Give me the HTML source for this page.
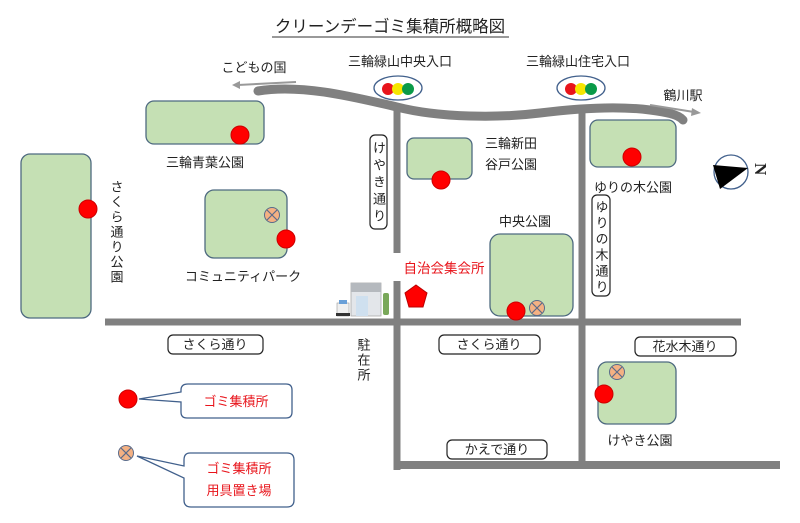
<!DOCTYPE html>
<html><head><meta charset="utf-8"><style>
html,body{margin:0;padding:0;background:#fff;}
svg{display:block;}
text{font-family:"Liberation Sans","Noto Sans CJK JP",sans-serif;fill:#222;font-size:13px;}
.r{fill:#e8141b;}
.v{writing-mode:tb;}
</style></head><body>
<svg width="800" height="523" viewBox="0 0 800 523" xmlns="http://www.w3.org/2000/svg">
<defs>
<g id="x"><circle r="7.5" fill="#f4b183" stroke="#5a6b8a" stroke-width="1"/><path d="M-5,-5L5,5M5,-5L-5,5" stroke="#5a6b8a" stroke-width="1.2"/></g>
<g id="d"><circle r="9" fill="#f00" stroke="#c00" stroke-width="1"/></g>
</defs>
<!-- title -->
<text x="390" y="32" text-anchor="middle" style="font-size:16.5px">クリーンデーゴミ集積所概略図</text>
<line x1="272" y1="37" x2="509" y2="37" stroke="#333" stroke-width="1"/>
<!-- roads -->
<g stroke="#808080" fill="none">
<path d="M258,91 C300,84 350,96 397,107 C440,118 500,118 540,113 C580,108 620,106 650,110 C665,112 678,114 683,120" stroke-width="9" stroke-linecap="round"/>
<line x1="397" y1="107" x2="397" y2="253" stroke-width="7"/>
<line x1="397" y1="281" x2="397" y2="470" stroke-width="7"/>
<line x1="582" y1="110" x2="582" y2="465" stroke-width="7"/>
<line x1="105" y1="322" x2="741" y2="322" stroke-width="7"/>
<line x1="397" y1="465" x2="780" y2="465" stroke-width="8"/>
</g>
<!-- arrows -->
<g stroke="#999" stroke-width="2" fill="#999">
<line x1="296" y1="82" x2="238" y2="85"/><path d="M232,85 L240,81 L240,89Z" stroke="none"/>
<line x1="650" y1="105" x2="694" y2="112"/><path d="M701,113 L692,108 L691,116Z" stroke="none"/>
</g>
<text x="254" y="72" text-anchor="middle">こどもの国</text>
<text x="400" y="66" text-anchor="middle">三輪緑山中央入口</text>
<text x="578" y="66" text-anchor="middle">三輪緑山住宅入口</text>
<text x="683" y="100" text-anchor="middle">鶴川駅</text>
<!-- traffic lights -->
<g stroke="#41608c" stroke-width="1.3">
<ellipse cx="398" cy="88" rx="24" ry="12" fill="#fff"/>
<ellipse cx="581" cy="88" rx="24" ry="12" fill="#fff"/>
</g>
<g>
<circle cx="388" cy="89" r="6" fill="#e8141b"/><circle cx="398" cy="89" r="6" fill="#f5e600"/><circle cx="408" cy="89" r="6" fill="#0a9a48"/>
<circle cx="571" cy="89" r="6" fill="#e8141b"/><circle cx="581" cy="89" r="6" fill="#f5e600"/><circle cx="591" cy="89" r="6" fill="#0a9a48"/>
</g>
<!-- parks -->
<g fill="#c5e0b4" stroke="#4e6a80" stroke-width="1.3">
<rect x="146" y="101" width="118" height="43" rx="8"/>
<rect x="21" y="154" width="70" height="164" rx="9"/>
<rect x="205" y="190" width="82" height="68" rx="9"/>
<rect x="407" y="138" width="65" height="41" rx="7"/>
<rect x="590" y="120" width="86" height="47" rx="8"/>
<rect x="490" y="234" width="83" height="82" rx="10"/>
<rect x="598" y="362" width="78" height="62" rx="9"/>
</g>
<use href="#d" x="240" y="135"/>
<use href="#d" x="88" y="209"/>
<use href="#x" x="272" y="215"/>
<use href="#d" x="286" y="239"/>
<use href="#d" x="441" y="180"/>
<use href="#d" x="632" y="157"/>
<use href="#d" x="516" y="311"/>
<use href="#x" x="537" y="308"/>
<use href="#x" x="617" y="372"/>
<use href="#d" x="604" y="394"/>
<!-- park labels -->
<text x="205" y="167" text-anchor="middle">三輪青葉公園</text>
<text x="243" y="281" text-anchor="middle">コミュニティパーク</text>
<text x="485" y="148">三輪新田</text>
<text x="485" y="169">谷戸公園</text>
<text x="633" y="192" text-anchor="middle">ゆりの木公園</text>
<text x="525" y="226" text-anchor="middle">中央公園</text>
<text x="640" y="445" text-anchor="middle">けやき公園</text>
<text x="116" y="180" class="v" style="letter-spacing:2px">さくら通り公園</text>
<text x="363" y="338" class="v" style="letter-spacing:2px">駐在所</text>
<!-- vertical street boxes -->
<rect x="370" y="135" width="17" height="94" rx="5" fill="#fff" stroke="#222" stroke-width="1.2"/>
<text x="378.5" y="141" class="v" style="letter-spacing:4px">けやき通り</text>
<rect x="592" y="195" width="18" height="101" rx="5" fill="#fff" stroke="#222" stroke-width="1.2"/>
<text x="601" y="200" class="v" style="letter-spacing:3px">ゆりの木通り</text>
<!-- horizontal street boxes -->
<g fill="#fff" stroke="#222" stroke-width="1.2">
<rect x="168" y="335" width="95" height="19" rx="5"/>
<rect x="439" y="335" width="101" height="19" rx="5"/>
<rect x="635" y="337" width="101" height="19" rx="5"/>
<rect x="447" y="440" width="100" height="19" rx="5"/>
</g>
<text x="215" y="349" text-anchor="middle">さくら通り</text>
<text x="489" y="349" text-anchor="middle">さくら通り</text>
<text x="685" y="351" text-anchor="middle">花水木通り</text>
<text x="497" y="454" text-anchor="middle">かえで通り</text>
<!-- community hall -->
<text x="444" y="273" text-anchor="middle" class="r" style="font-size:13.5px">自治会集会所</text>
<path d="M416,285 L427,293 L423,307 L409,307 L405,293Z" fill="#f00" stroke="#b00" stroke-width="1"/>
<!-- building -->
<rect x="351" y="283" width="30" height="33" fill="#e3e6ea" stroke="#aaa" stroke-width="0.8"/>
<rect x="351" y="283" width="30" height="9" fill="#b5b9be"/>
<rect x="356" y="296" width="12" height="20" fill="#cfe0ef"/>
<rect x="383" y="293" width="6" height="22" fill="#79a85a" rx="2"/>
<rect x="337" y="303" width="12" height="13" fill="#f0f0f0" stroke="#999" stroke-width="0.6"/>
<rect x="339" y="300" width="8" height="4" fill="#6aa0d8"/>
<rect x="336" y="313" width="14" height="3" fill="#333"/>
<!-- compass -->
<circle cx="731" cy="172" r="17" fill="#fff" stroke="#41608c" stroke-width="1.3"/>
<path d="M713,165 L748,168 L720,189Z" fill="#000"/>
<text x="0" y="0" transform="translate(755,163) rotate(90)" style="font-size:17px;font-family:'Liberation Serif',serif;font-weight:bold">N</text>
<!-- legend -->
<g fill="#fff" stroke="#41608c" stroke-width="1.3">
<path d="M188,384 H286 Q292,384 292,390 V412 Q292,418 286,418 H187 Q181,418 181,412 V402 L139,399 L181,392 V390 Q181,384 188,384Z"/>
<path d="M190,453 H287 Q294,453 294,460 V500 Q294,507 287,507 H191 Q184,507 184,500 V478 L137,456 L184,466 V460 Q184,453 190,453Z"/>
</g>
<use href="#d" x="128" y="399"/>
<use href="#x" x="126" y="453"/>
<text x="236" y="406" text-anchor="middle" class="r">ゴミ集積所</text>
<text x="239" y="473" text-anchor="middle" class="r">ゴミ集積所</text>
<text x="239" y="495" text-anchor="middle" class="r">用具置き場</text>
</svg>
</body></html>
